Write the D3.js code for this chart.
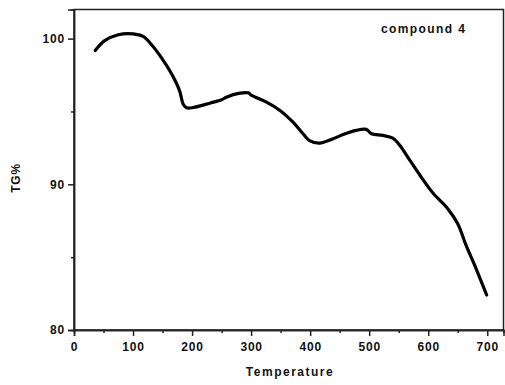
<!DOCTYPE html>
<html><head><meta charset="utf-8">
<script src="https://cdn.jsdelivr.net/npm/d3@7"></script>
<style>body{margin:0;background:#fff}svg{display:block}</style>
</head><body>
<script>
const temperature = [36,52,75,100,117,131,148,165,179,185,191,205,230,250,258,281,295,301,326,349,371,388,399,416,439,456,478,495,504,523,540,552,569,586,608,633,650,664,681,699];
const tgPercent  = [99.18,99.86,100.27,100.33,100.15,99.6,98.7,97.6,96.4,95.5,95.25,95.3,95.57,95.8,95.98,96.26,96.28,96.1,95.64,95.07,94.27,93.47,93.0,92.83,93.13,93.42,93.7,93.77,93.47,93.36,93.17,92.67,91.64,90.62,89.4,88.33,87.3,85.82,84.22,82.4];
const xTicks = [0,100,200,300,400,500,600,700];
const yTicks = [80,90,100];
const xMinor = [50,150,250,350,450,550,650];
const yMinor = [85,95];

const W=505,H=385;
const m={l:74,r:1.5,t:9.5,b:55};
const svg=d3.select("body").append("svg").attr("width",W).attr("height",H);
const x=d3.scaleLinear().domain([0,727.5]).range([m.l,W-m.r]);
const y=d3.scaleLinear().domain([80,102]).range([H-m.b,m.t]);
const font="Arial, 'Liberation Sans', sans-serif";

const data=temperature.map((t,i)=>[t,tgPercent[i]]);
svg.append("path").datum(data)
  .attr("fill","none").attr("stroke","#000").attr("stroke-width",3.2)
  .attr("stroke-linejoin","round").attr("stroke-linecap","round")
  .attr("d",d3.line().x(d=>x(d[0])).y(d=>y(d[1])).curve(d3.curveCatmullRom.alpha(0.5)));

// frame
svg.append("rect").attr("x",m.l).attr("y",m.t).attr("width",W-m.r-m.l).attr("height",H-m.b-m.t)
  .attr("fill","none").attr("stroke","#222").attr("stroke-width",1.5);

const xAxis=svg.append("g").attr("transform",`translate(0,${H-m.b})`)
  .call(d3.axisBottom(x).tickValues(xTicks).tickSize(6).tickPadding(6).tickFormat(d3.format("d")));
const xAxisMinor=svg.append("g").attr("transform",`translate(0,${H-m.b})`)
  .call(d3.axisBottom(x).tickValues(xMinor).tickSize(3).tickFormat(""));
const yAxis=svg.append("g").attr("transform",`translate(${m.l},0)`)
  .call(d3.axisLeft(y).tickValues(yTicks).tickSize(6).tickPadding(3).tickFormat(d3.format("d")));
const yAxisMinor=svg.append("g").attr("transform",`translate(${m.l},0)`)
  .call(d3.axisLeft(y).tickValues(yMinor).tickSize(3).tickFormat(""));
[xAxis,xAxisMinor,yAxis,yAxisMinor].forEach(g=>{
  g.select(".domain").attr("stroke","#222").attr("stroke-width",1.5);
  g.selectAll(".tick line").attr("stroke","#222").attr("stroke-width",1.5);
  g.selectAll("text").attr("font-family",font).attr("font-size",12).attr("font-weight","bold")
   .attr("fill","#111").attr("letter-spacing","0.8px");
});

svg.append("text").attr("x",290).attr("y",376).attr("text-anchor","middle")
  .attr("font-family",font).attr("font-size",12).attr("font-weight","bold").attr("letter-spacing","1.5px")
  .attr("fill","#111").text("Temperature");
svg.append("text").attr("transform","translate(20,178) rotate(-90)").attr("text-anchor","middle")
  .attr("font-family",font).attr("font-size",12).attr("font-weight","bold").attr("letter-spacing","0.8px")
  .attr("fill","#111").text("TG%");
svg.append("text").attr("x",381).attr("y",33)
  .attr("font-family",font).attr("font-size",12).attr("font-weight","bold").attr("letter-spacing","1.4px")
  .attr("fill","#111").text("compound 4");
</script>
</body></html>
